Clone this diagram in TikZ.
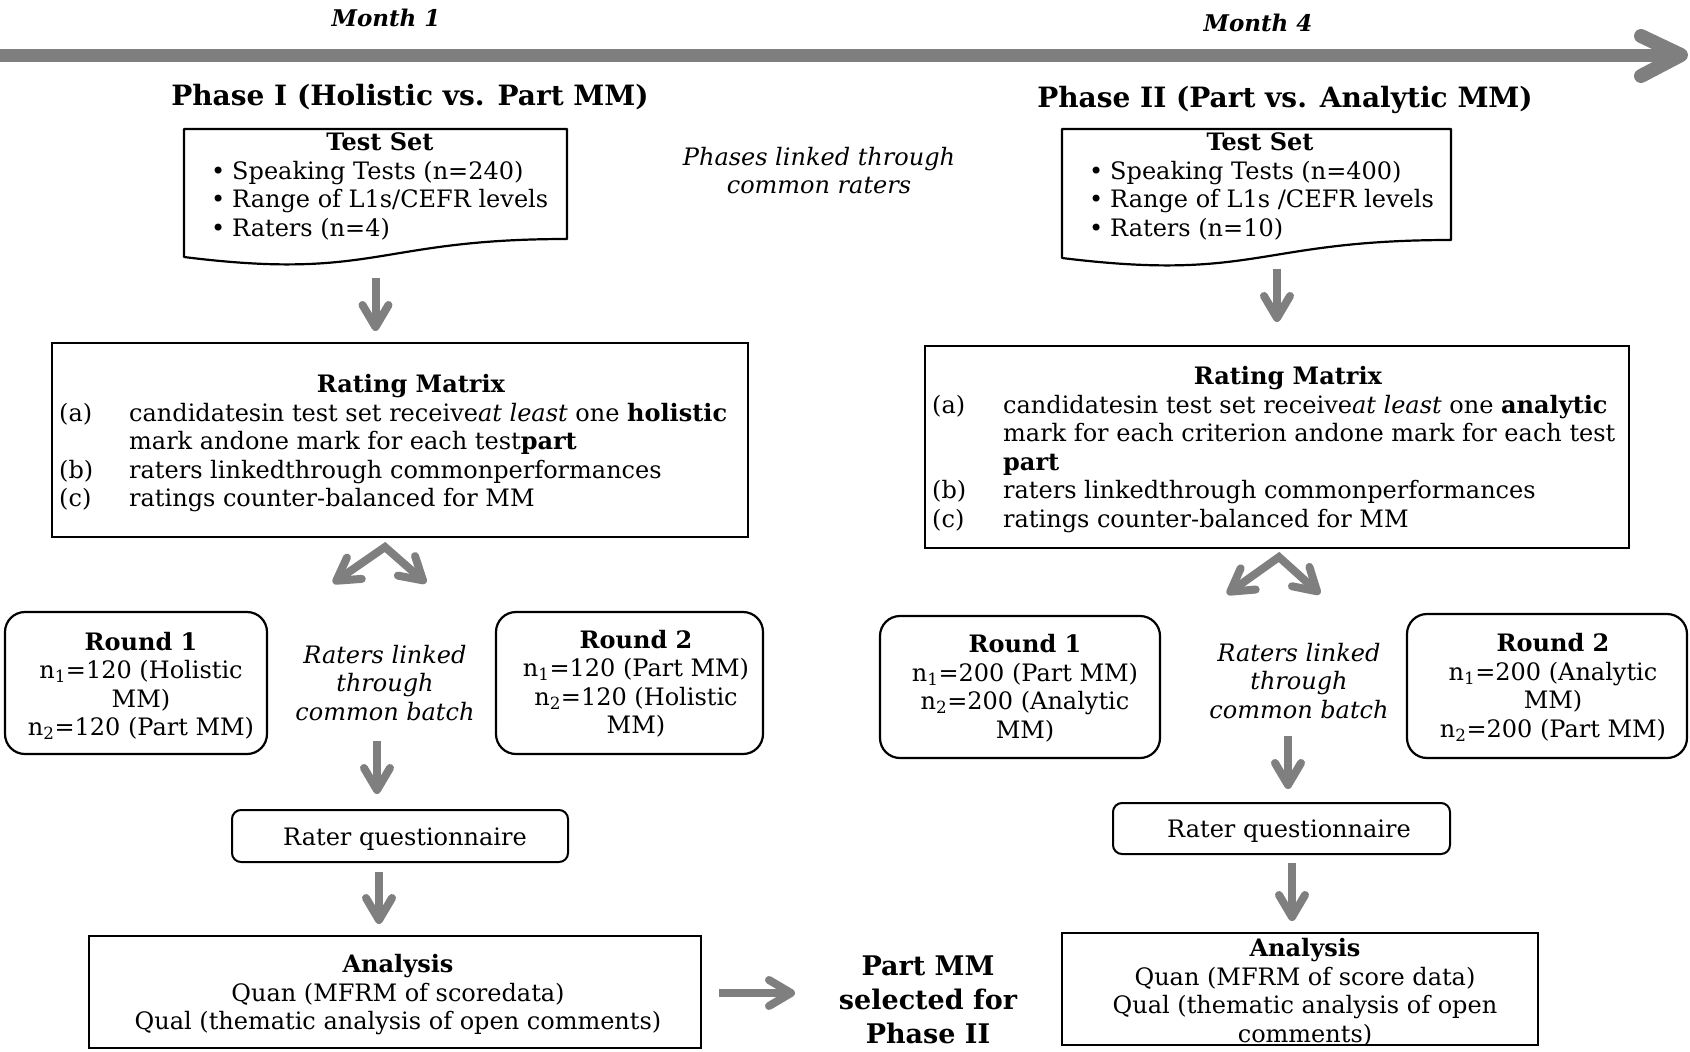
\documentclass[tikz,border=0pt]{standalone}
\usepackage{fontspec}
\setmainfont{DejaVu Serif}
\usetikzlibrary{arrows.meta,calc}
\definecolor{arrgray}{HTML}{7F7F7F}
\newcommand{\blt}{\makebox[21pt][l]{•}}
\begin{document}
\begin{tikzpicture}[x=1pt,y=-1pt,
  txt/.style={inner sep=0pt, font=\fontsize{24}{28.5}\selectfont},
  itx/.style={inner sep=0pt, font=\fontsize{24}{28.5}\selectfont\itshape},
  boxr/.style={draw, line width=2pt, inner sep=0pt},
  rbox/.style={draw, line width=2.2pt, inner sep=0pt, rounded corners=20pt},
  qbox/.style={draw, line width=2pt, inner sep=0pt, rounded corners=9pt},
  docline/.style={line width=2.2pt, line join=round},
  garrow/.style={draw=arrgray, line width=8pt, -{Straight Barb[length=22pt,width=26pt,round]}},
  gsplit/.style={draw=arrgray, line width=8pt, line join=miter, {Straight Barb[length=22pt,width=26pt,round]}-{Straight Barb[length=22pt,width=26pt,round]}}
]
\useasboundingbox (0,0) rectangle (1690,1052);

% timeline
\draw[arrgray, line width=13pt] (0,55) -- (1676,55);
\draw[arrgray, line width=14pt, line cap=round, line join=round] (1641,36) -- (1681,55) -- (1641,76);
\node[inner sep=0pt, anchor=base, font=\fontsize{23}{28}\selectfont\bfseries\itshape] (m1) at (386,26) {Month 1};
\node[inner sep=0pt, anchor=base, font=\fontsize{23}{28}\selectfont\bfseries\itshape] (m4) at (1258,31) {Month 4};

% phase titles
\node[inner sep=0pt, anchor=base, font=\fontsize{28}{34}\selectfont\bfseries] (ph1) at (410,105) {Phase I (Holistic vs. Part MM)};
\node[inner sep=0pt, anchor=base, font=\fontsize{28}{34}\selectfont\bfseries] (ph2) at (1285,107) {Phase II (Part vs. Analytic MM)};

% test sets
\draw[docline] (184,129) -- (567,129) -- (567,239) .. controls (375.5,239) and (375.5,281) .. (184,257) -- cycle;
\node[inner sep=0pt, minimum width=383pt, minimum height=132pt] (tsL) at (375.5,195) {};
\node[txt, anchor=base] (tsLt) at (380,150.5) {\textbf{Test Set}};
\node[txt, anchor=north west, align=left] (tsLb) at (211,159) {\strut\blt Speaking Tests (n=240)\\\strut\blt Range of L1s/CEFR levels\\\strut\blt Raters (n=4)};

\draw[docline] (1062,129) -- (1451,129) -- (1451,240) .. controls (1256.5,240) and (1256.5,282) .. (1062,258) -- cycle;
\node[inner sep=0pt, minimum width=389pt, minimum height=135pt] (tsR) at (1256.5,196.5) {};
\node[txt, anchor=base] (tsRt) at (1260,150.5) {\textbf{Test Set}};
\node[txt, anchor=north west, align=left] (tsRb) at (1089,159) {\strut\blt Speaking Tests (n=400)\\\strut\blt Range of L1s /CEFR levels\\\strut\blt Raters (n=10)};

\node[itx, anchor=north, align=center] (plk) at (819,145) {\strut Phases linked through\\\strut common raters};

% rating matrices
\node[boxr, minimum width=696pt, minimum height=194pt] (rm1) at (400,440) {};
\node[txt, anchor=base] (rm1t) at (411,392) {\textbf{Rating Matrix}};
\node[txt, anchor=north west, align=left] (rm1l) at (59,401) {\strut(a)\\\strut\\\strut(b)\\\strut(c)};
\node[txt, anchor=north west, align=left] (rm1x) at (129,401) {\strut candidatesin test set receive\textit{at least} one \textbf{holistic}\\\strut mark andone mark for each test\textbf{part}\\\strut raters linkedthrough commonperformances\\\strut ratings counter-balanced for MM};

\node[boxr, minimum width=704pt, minimum height=202pt] (rm2) at (1277,447) {};
\node[txt, anchor=base] (rm2t) at (1288,384) {\textbf{Rating Matrix}};
\node[txt, anchor=north west, align=left] (rm2l) at (932,393) {\strut(a)\\\strut\\\strut\\\strut(b)\\\strut(c)};
\node[txt, anchor=north west, align=left] (rm2x) at (1003,393) {\strut candidatesin test set receive\textit{at least} one \textbf{analytic}\\\strut mark for each criterion andone mark for each test\\\strut\textbf{part}\\\strut raters linkedthrough commonperformances\\\strut ratings counter-balanced for MM};

% rounds left
\node[rbox, minimum width=262pt, minimum height=142pt] (r1L) at (136,683) {};
\node[txt, anchor=north, align=center] (r1Lt) at (141,630) {\strut\textbf{Round 1}\\\strut n\textsubscript{1}=120 (Holistic\\\strut MM)\\\strut n\textsubscript{2}=120 (Part MM)};
\node[rbox, minimum width=267pt, minimum height=142pt] (r2L) at (629.5,683) {};
\node[txt, anchor=north, align=center] (r2Lt) at (636,628) {\strut\textbf{Round 2}\\\strut n\textsubscript{1}=120 (Part MM)\\\strut n\textsubscript{2}=120 (Holistic\\\strut MM)};
\node[itx, anchor=north, align=center] (lkL) at (385,643) {\strut Raters linked\\\strut through\\\strut common batch};

% rounds right
\node[rbox, minimum width=280pt, minimum height=142pt] (r1R) at (1020,687) {};
\node[txt, anchor=north, align=center] (r1Rt) at (1025,632.5) {\strut\textbf{Round 1}\\\strut n\textsubscript{1}=200 (Part MM)\\\strut n\textsubscript{2}=200 (Analytic\\\strut MM)};
\node[rbox, minimum width=280pt, minimum height=144pt] (r2R) at (1547,686) {};
\node[txt, anchor=north, align=center] (r2Rt) at (1553,631.5) {\strut\textbf{Round 2}\\\strut n\textsubscript{1}=200 (Analytic\\\strut MM)\\\strut n\textsubscript{2}=200 (Part MM)};
\node[itx, anchor=north, align=center] (lkR) at (1299,641) {\strut Raters linked\\\strut through\\\strut common batch};

% questionnaires
\node[qbox, minimum width=336pt, minimum height=52pt] (rqL) at (400,836) {};
\node[txt, anchor=base] (rqLt) at (405,845) {Rater questionnaire};
\node[qbox, minimum width=337pt, minimum height=51pt] (rqR) at (1281.5,828.5) {};
\node[txt, anchor=base] (rqRt) at (1289,837) {Rater questionnaire};

% analysis
\node[boxr, minimum width=612pt, minimum height=112pt] (anL) at (395,992) {};
\node[txt, anchor=north, align=center] (anLt) at (398,952.5) {\strut\textbf{Analysis}\\\strut Quan (MFRM of scoredata)\\\strut Qual (thematic analysis of open comments)};
\node[boxr, minimum width=476pt, minimum height=112pt] (anR) at (1300,989) {};
\node[txt, anchor=north, align=center] (anRt) at (1305,936.5) {\strut\textbf{Analysis}\\\strut Quan (MFRM of score data)\\\strut Qual (thematic analysis of open\\\strut comments)};

\node[inner sep=0pt, anchor=north, align=center, font=\fontsize{27}{34}\selectfont\bfseries] (pm) at (928,951) {\strut Part MM\\\strut selected for\\\strut Phase II};

% arrows
\draw[garrow, shorten <=17pt, shorten >=11pt] (tsL.south) -- (tsL.south |- rm1.north);
\draw[garrow, shorten <=5pt, shorten >=23pt] (tsR.south -| rm2.north) -- (rm2.north);
\coordinate (spL1) at (333,583);
\coordinate (spL2) at (426,583);
\draw[gsplit] (spL1) -- ($(rm1.south)+(-15,9)$) -- (spL2);
\coordinate (spR1) at (1227,594);
\coordinate (spR2) at (1320,594);
\draw[gsplit] (spR1) -- ($(rm2.south)+(2,8)$) -- (spR2);
\draw[garrow] ($(rqL.north)+(-23,-68)$) -- ($(rqL.north)+(-23,-15)$);
\draw[garrow] ($(rqL.south)+(-21,9)$) -- ($(anL.north)+(-16,-11)$);
\draw[garrow] ($(rqR.north)+(6.5,-66)$) -- ($(rqR.north)+(6.5,-13)$);
\draw[garrow] ($(rqR.south)+(10.5,8)$) -- ($(anR.north)+(-8,-11)$);
\draw[garrow] ($(anL.east)+(17,1)$) -- ($(anL.east)+(93,1)$);
\end{tikzpicture}
\end{document}
